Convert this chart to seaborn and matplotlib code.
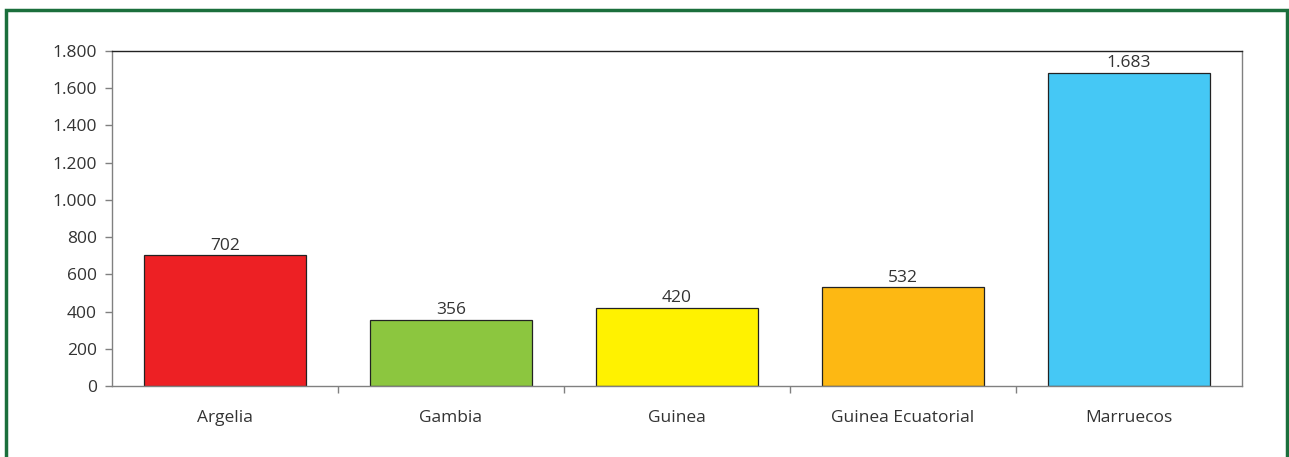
import seaborn as sns
import pandas as pd
import matplotlib.pyplot as plt
from matplotlib.patches import Rectangle
from matplotlib.ticker import FixedLocator, FuncFormatter

paises = ["Argelia", "Gambia", "Guinea", "Guinea Ecuatorial", "Marruecos"]
valores = [702, 356, 420, 532, 1683]
colores = ["#ED2024", "#8CC63F", "#FFF200", "#FDB813", "#45C8F5"]
y_ticks = [0, 200, 400, 600, 800, 1000, 1200, 1400, 1600, 1800]


def miles(v, pos=None):
    return f"{int(v):,}".replace(",", ".")


sns.set_style("white")
plt.rcParams["font.family"] = ["Open Sans", "DejaVu Sans"]

df = pd.DataFrame({"pais": paises, "valor": valores})

fig = plt.figure(figsize=(12.89, 4.57), dpi=100)
ax = fig.add_axes([112 / 1289, 1 - 386 / 457, (1242 - 112) / 1289, (386 - 51) / 457])

sns.barplot(data=df, x="pais", y="valor", hue="pais", palette=colores, saturation=1,
            width=0.715, edgecolor="#222222", linewidth=0.9, legend=False, ax=ax)

for i, v in enumerate(valores):
    ax.text(i, v + 8, miles(v), ha="center", va="bottom", fontsize=12.5, color="#333333")

ax.set_ylim(0, 1800)
ax.set_xlim(-0.5, len(paises) - 0.5)
ax.yaxis.set_major_locator(FixedLocator(y_ticks))
ax.yaxis.set_major_formatter(FuncFormatter(miles))
ax.set_xlabel("")
ax.set_ylabel("")

# ticks between categories
ax.xaxis.set_minor_locator(FixedLocator([i + 0.5 for i in range(len(paises) - 1)]))
ax.tick_params(axis="x", which="major", length=0, pad=17, labelsize=12.5, labelcolor="#333333")
ax.tick_params(axis="x", which="minor", length=5, width=1, color="#808080", direction="out", bottom=True)
ax.tick_params(axis="y", length=5, width=1, color="#808080", direction="out", left=True,
               labelsize=12.5, labelcolor="#333333", pad=6)

for side in ["left", "right", "bottom"]:
    ax.spines[side].set_color("#808080")
    ax.spines[side].set_linewidth(1)
ax.spines["top"].set_color("#222222")
ax.spines["top"].set_linewidth(1)

# green frame around the chart, open at the bottom
fig.patches.append(Rectangle((6 / 1289, -0.1), (1287 - 6) / 1289, 1 - 10 / 457 + 0.1,
                             transform=fig.transFigure, fill=False,
                             edgecolor="#1B6F3C", linewidth=2.5))

fig.savefig("out.png", dpi=100)
